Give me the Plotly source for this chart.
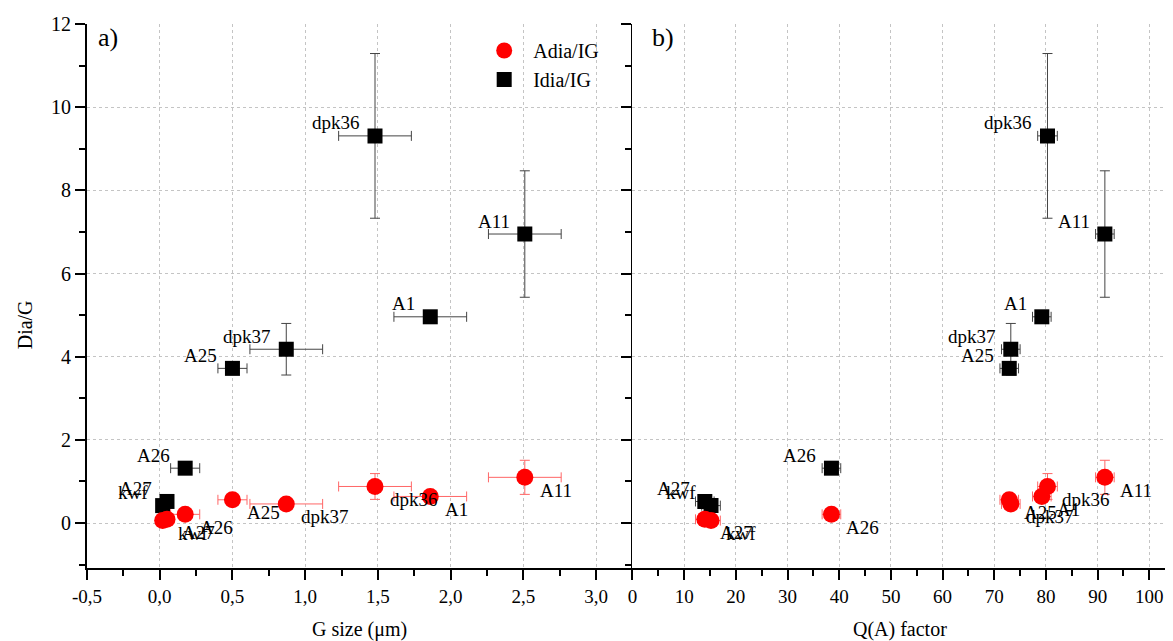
import plotly.graph_objects as go

# ---- data ----
samples = ['dpk36', 'A11', 'A1', 'dpk37', 'A25', 'A26', 'A27', 'kwf']
g_size = [1.48, 2.51, 1.86, 0.87, 0.50, 0.175, 0.05, 0.02]
g_err = [0.25, 0.25, 0.25, 0.25, 0.10, 0.10, 0.0, 0.0]
q_factor = [80.3, 91.4, 79.2, 73.2, 72.9, 38.5, 14.0, 15.2]
q_err = [1.9, 1.8, 1.8, 1.8, 1.8, 1.8, 1.8, 1.8]
idia_ig = [9.31, 6.95, 4.96, 4.18, 3.72, 1.32, 0.52, 0.42]
idia_err = [1.98, 1.52, 0.0, 0.62, 0.0, 0.0, 0.0, 0.0]
adia_ig = [0.88, 1.10, 0.64, 0.46, 0.56, 0.21, 0.09, 0.06]
adia_err = [0.31, 0.41, 0.0, 0.0, 0.0, 0.0, 0.0, 0.0]

g_ticks = [-0.5, 0.0, 0.5, 1.0, 1.5, 2.0, 2.5, 3.0]
g_ticktext = ['-0,5', '0,0', '0,5', '1,0', '1,5', '2,0', '2,5', '3,0']
q_ticks = [0, 10, 20, 30, 40, 50, 60, 70, 80, 90, 100]
y_ticks = [0, 2, 4, 6, 8, 10, 12]

FONT = 'Liberation Serif'
RED = '#ff0000'
RED_ERR = '#ff6666'
BLK = '#000000'
BLK_ERR = '#444444'
GRID = '#c4c4c4'

# page body margin of 8 px is compensated: target pixel coordinates are window coords
OFF = 8
W, H = 1173 - OFF, 641 - OFF
X_LEFT, X_SPLIT, X_RIGHT = 86.7, 632.3, 1170.0   # window px
Y_TOP, Y_BOT = 24.0, 568.0                        # window px
ML = X_LEFT - OFF
MR = (1173 - X_RIGHT)
MT = Y_TOP - OFF
MB = 641 - Y_BOT
plot_w = W - ML - MR
plot_h = H - MT - MB
split = (X_SPLIT - X_LEFT) / plot_w

fig = go.Figure()

def add_series(xv, xe, yv, ye, axis, color, ecolor, symbol, size, name, show, rank):
    fig.add_trace(go.Scatter(
        x=xv, y=yv, mode='markers', name=name,
        xaxis='x' + axis, yaxis='y' + axis,
        marker=dict(color=color, symbol=symbol, size=size, line=dict(width=0)),
        error_x=dict(type='data', array=xe, color=ecolor, thickness=1, width=5),
        error_y=dict(type='data', array=ye, color=ecolor, thickness=1, width=5),
        showlegend=show, legendgroup=name, legendrank=rank,
    ))

add_series(g_size, g_err, idia_ig, idia_err, '', BLK, BLK_ERR, 'square', 15, 'Idia/IG', True, 2)
add_series(g_size, g_err, adia_ig, adia_err, '', RED, RED_ERR, 'circle', 17, 'Adia/IG', True, 1)
add_series(q_factor, q_err, idia_ig, idia_err, '2', BLK, BLK_ERR, 'square', 15, 'Idia/IG', False, 2)
add_series(q_factor, q_err, adia_ig, adia_err, '2', RED, RED_ERR, 'circle', 17, 'Adia/IG', False, 1)

annotations = []
for xs, ax in ((g_size, 'x'), (q_factor, 'x2')):
    yax = 'y' if ax == 'x' else 'y2'
    for name, xv, yb, ya in zip(samples, xs, idia_ig, adia_ig):
        annotations.append(dict(x=xv, y=yb, xref=ax, yref=yax, text=name, showarrow=False,
                                xanchor='right', yanchor='middle', xshift=-13, yshift=13,
                                font=dict(family=FONT, size=19, color='black')))
        annotations.append(dict(x=xv, y=ya, xref=ax, yref=yax, text=name, showarrow=False,
                                xanchor='left', yanchor='middle', xshift=13, yshift=-13,
                                font=dict(family=FONT, size=19, color='black')))

def px_to_paper_x(px):
    return (px - X_LEFT) / plot_w

def px_to_paper_y(py):
    return (Y_BOT - py) / plot_h

annotations += [
    dict(x=px_to_paper_x(96), y=px_to_paper_y(37), xref='paper', yref='paper', text='a)',
         showarrow=False, xanchor='left', yanchor='middle', font=dict(family=FONT, size=26, color='black')),
    dict(x=px_to_paper_x(650), y=px_to_paper_y(37), xref='paper', yref='paper', text='b)',
         showarrow=False, xanchor='left', yanchor='middle', font=dict(family=FONT, size=26, color='black')),
    dict(x=px_to_paper_x(359), y=px_to_paper_y(629), xref='paper', yref='paper', text='G size (μm)',
         showarrow=False, xanchor='center', yanchor='middle', font=dict(family=FONT, size=20, color='black')),
    dict(x=px_to_paper_x(900), y=px_to_paper_y(629), xref='paper', yref='paper', text='Q(A) factor',
         showarrow=False, xanchor='center', yanchor='middle', font=dict(family=FONT, size=20, color='black')),
    dict(x=px_to_paper_x(25), y=px_to_paper_y(325), xref='paper', yref='paper', text='Dia/G',
         showarrow=False, textangle=-90, xanchor='center', yanchor='middle', font=dict(family=FONT, size=20, color='black')),
]

common_x = dict(showline=True, linecolor='black', linewidth=2, ticks='outside', ticklen=10, tickwidth=1.5,
                tickcolor='black', showgrid=True, gridcolor=GRID, griddash='dot', gridwidth=1,
                zeroline=False, tickfont=dict(family=FONT, size=19, color='black'), mirror=False)

yrange = [-1.08, 12]

fig.update_layout(
    width=W, height=H,
    margin=dict(l=ML, r=MR, t=MT, b=MB, pad=0),
    paper_bgcolor='white', plot_bgcolor='white',
    font=dict(family=FONT, color='black'),
    xaxis=dict(common_x, domain=[0, split], range=[-0.5, 3.25], tickmode='array', tickvals=g_ticks,
               ticktext=g_ticktext, anchor='y',
               minor=dict(dtick=0.25, tick0=0, ticks='outside', ticklen=6, tickwidth=1.5, tickcolor='black', showgrid=False)),
    xaxis2=dict(common_x, domain=[split, 1], range=[0, 104], tickmode='array', tickvals=q_ticks, anchor='y2',
                minor=dict(dtick=5, tick0=0, ticks='outside', ticklen=6, tickwidth=1.5, tickcolor='black', showgrid=False)),
    yaxis=dict(domain=[0, 1], range=yrange, tickmode='array', tickvals=y_ticks, showline=True, linecolor='black',
               linewidth=2, ticks='outside', ticklen=10, tickwidth=1.5, tickcolor='black', showgrid=True,
               gridcolor=GRID, griddash='dot', zeroline=False, anchor='x',
               tickfont=dict(family=FONT, size=20, color='black'),
               minor=dict(dtick=1, tick0=0, ticks='outside', ticklen=6, tickwidth=1.5, tickcolor='black', showgrid=False)),
    yaxis2=dict(domain=[0, 1], range=yrange, tickmode='array', tickvals=y_ticks, showline=True, linecolor='black',
                linewidth=1, ticks='outside', ticklen=10, tickwidth=1.5, tickcolor='black', showgrid=True,
                gridcolor=GRID, griddash='dot', zeroline=False, anchor='x2', showticklabels=False,
                minor=dict(dtick=1, tick0=0, ticks='outside', ticklen=6, tickwidth=1.5, tickcolor='black', showgrid=False)),
    legend=dict(x=px_to_paper_x(475), y=px_to_paper_y(31), xanchor='left', yanchor='top',
                bgcolor='rgba(0,0,0,0)', borderwidth=0, font=dict(family=FONT, size=20, color='black'),
                tracegroupgap=0, itemsizing='trace', itemwidth=48),
    annotations=annotations,
)

fig.write_html('out.html')
